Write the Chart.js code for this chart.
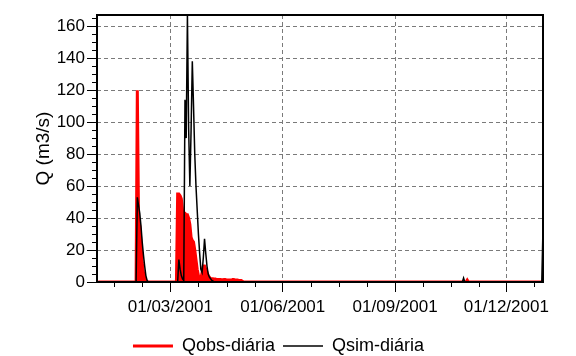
<!DOCTYPE html>
<html>
<head>
<meta charset="utf-8">
<script src="https://cdn.jsdelivr.net/npm/chart.js@4.4.0/dist/chart.umd.min.js"></script>
<style>
  body { margin: 0; background: #fff; }
</style>
</head>
<body>
<canvas id="grafica" width="576" height="356"></canvas>
<script>
'use strict'
//Vazões diárias de 2001 (índice 0 = 01/01/2001)

const nomesSeries = ['Qobs-diária', 'Qsim-diária'];

const qobs = [
    0,0,0,0,0,0,0,0,0,0, 0,0,0,0,0,0,0,0,0,0, 0,0,0,0,0,0,0,0,0,0, 0, //jan
    0,120,40,35,25,12,6,3,1,0, 0,0,0,0,0,0,0,0,0,0, 0,0,0,0,0,0,0,0, //fev
    0,0,0,0,0,0,55,55,54,52, 45,43,43,42,42,40,36,28,26,25, 20,14,8,4,2,2,6,10,10,8, 6, //mar
    4,3,2,2,2,1.8,1.8,1.5,1.5,1.5, 1.5,1.4,1.4,1.5,1.5,1.3,1.3,1.2,1.2,1.2, 1.5,1.5,1.3,1.2,1.2,1.0,1.0,1.0,0.5,0, //abr
    0,0,0,0,0,0,0,0,0,0, 0,0,0,0,0,0,0,0,0,0, 0,0,0,0,0,0,0,0,0,0, 0, //mai
    0,0,0,0,0,0,0,0,0,0, 0,0,0,0,0,0,0,0,0,0, 0,0,0,0,0,0,0,0,0,0, //jun
    0,0,0,0,0,0,0,0,0,0, 0,0,0,0,0,0,0,0,0,0, 0,0,0,0,0,0,0,0,0,0, 0, //jul
    0,0,0,0,0,0,0,0,0,0, 0,0,0,0,0,0,0,0,0,0, 0,0,0,0,0,0,0,0,0,0, 0, //ago
    0,0,0,0,0,0,0,0,0,0, 0,0,0,0,0,0,0,0,0,0, 0,0,0,0,0,0,0,0,0,0, //set
    0,0,0,0,0,0,0,0,0,0, 0,0,0,0,0,0,0,0,0,0, 0,0,0,0,0,0,0,0,0,1.2, 0, //out
    0,0,0,0,0,0,0,0,0,0, 0,0,0,0,0,0,0,0,0,0, 0,0,0,0,0,0,0,0,0,0, //nov
    0,0,0,0,0,0,0,0,0,0, 0,0,0,0,0,0,0,0,0,0, 0,0,0,0,0,0,0,0,0,0, 0 //dez
];

const qsim = [
    0,0,0,0,0,0,0,0,0,0, 0,0,0,0,0,0,0,0,0,0, 0,0,0,0,0,0,0,0,0,0, 0, //jan
    0,53,48,43,35,25,17,10,4,1, 0,0,0,0,0,0,0,0,0,0, 0,0,0,0,0,0,0,0, //fev
    0,0,0,0,0,0,0,14,8,4, 2,1,114,90,167,96,60,95,138,110, 80,60,45,30,18,8,6,15,27,18, 10, //mar
    5,3,2,1,0.5,0,0,0,0,0, 0,0,0,0,0,0,0,0,0,0, 0,0,0,0,0,0,0,0,0,0, //abr
    0,0,0,0,0,0,0,0,0,0, 0,0,0,0,0,0,0,0,0,0, 0,0,0,0,0,0,0,0,0,0, 0, //mai
    0,0,0,0,0,0,0,0,0,0, 0,0,0,0,0,0,0,0,0,0, 0,0,0,0,0,0,0,0,0,0, //jun
    0,0,0,0,0,0,0,0,0,0, 0,0,0,0,0,0,0,0,0,0, 0,0,0,0,0,0,0,0,0,0, 0, //jul
    0,0,0,0,0,0,0,0,0,0, 0,0,0,0,0,0,0,0,0,0, 0,0,0,0,0,0,0,0,0,0, 0, //ago
    0,0,0,0,0,0,0,0,0,0, 0,0,0,0,0,0,0,0,0,0, 0,0,0,0,0,0,0,0,0,0, //set
    0,0,0,0,0,0,0,0,0,0, 0,0,0,0,0,0,0,0,0,0, 0,0,0,0,0,0,2.5,0,0,0, 0, //out
    0,0,0,0,0,0,0,0,0,0, 0,0,0,0,0,0,0,0,0,0, 0,0,0,0,0,0,0,0,0,0, //nov
    0,0,0,0,0,0,0,0,0,0, 0,0,0,0,0,0,0,0,0,0, 0,0,0,0,0,0,0,0,0,0, 34 //dez
];

//Marcas do eixo x (dia do ano) e seus rótulos
const diasTicks = [59, 151, 243, 334];
const rotulosTicks = ['01/03/2001', '01/06/2001', '01/09/2001', '01/12/2001'];
//Marcas do eixo y
const valoresY = [0, 20, 40, 60, 80, 100, 120, 140, 160];

const fonte = 'Liberation Sans, Arial, Helvetica, sans-serif';

//Plugin: marcas menores e moldura da área do gráfico
const molduraTicks = {
    id: 'molduraTicks',
    afterDraw(chart) {
        const {ctx, chartArea: a, scales: {x, y}} = chart;
        ctx.save();
        ctx.strokeStyle = '#000';
        ctx.lineWidth = 1;
        ctx.beginPath();
        const menoresX = [];
        for (let i = 0; i < diasTicks.length - 1; i++) {
            const passo = (diasTicks[i + 1] - diasTicks[i]) / 4;
            for (let k = 1; k < 4; k++) menoresX.push(diasTicks[i] + k * passo);
        }
        let passo = (diasTicks[1] - diasTicks[0]) / 4;
        for (let v = diasTicks[0] - passo; v > x.min; v -= passo) menoresX.push(v);
        passo = (diasTicks[diasTicks.length - 1] - diasTicks[diasTicks.length - 2]) / 4;
        for (let v = diasTicks[diasTicks.length - 1] + passo; v < x.max; v += passo) menoresX.push(v);
        menoresX.forEach(v => {
            const px = Math.round(x.getPixelForValue(v)) + 0.5;
            ctx.moveTo(px, a.bottom);
            ctx.lineTo(px, a.bottom + 5);
        });
        for (let v = 5; v < y.max; v += 5) {
            if (v % 20 === 0) continue;
            const py = Math.round(y.getPixelForValue(v)) + 0.5;
            ctx.moveTo(a.left - 5, py);
            ctx.lineTo(a.left, py);
        }
        ctx.stroke();
        ctx.lineWidth = 2;
        ctx.strokeRect(a.left, a.top, a.right - a.left, a.bottom - a.top);
        ctx.restore();
    }
};

const ctx_grafica = document.getElementById('grafica').getContext('2d');

new Chart(ctx_grafica, {
    type: 'line',
    data: {
        datasets: [{
            label: nomesSeries[0],
            data: qobs.map((v, i) => ({x: i, y: v})),
            borderColor: '#ff0000',
            backgroundColor: '#ff0000',
            borderWidth: 3,
            fill: 'origin',
            pointRadius: 0,
            tension: 0,
            order: 1
        }, {
            label: nomesSeries[1],
            data: qsim.map((v, i) => ({x: i, y: v})),
            borderColor: '#000000',
            backgroundColor: '#000000',
            borderWidth: 1.5,
            fill: false,
            pointRadius: 0,
            tension: 0,
            order: 0
        }]
    },
    options: {
        responsive: false,
        animation: false,
        layout: {
            padding: {top: 15, right: 33, bottom: -9, left: 14}
        },
        plugins: {
            tooltip: {enabled: false},
            legend: {
                position: 'bottom',
                labels: {
                    usePointStyle: true,
                    pointStyle: 'line',
                    pointStyleWidth: 40,
                    padding: 8,
                    color: '#000',
                    font: {family: fonte, size: 18},
                    sort: (a, b) => a.datasetIndex - b.datasetIndex
                }
            }
        },
        scales: {
            x: {
                type: 'linear',
                min: -1,
                max: 364,
                afterBuildTicks: scale => {
                    scale.ticks = diasTicks.map(v => ({value: v}));
                },
                afterFit: scale => { scale.height = 47; },
                ticks: {
                    autoSkip: false,
                    maxRotation: 0,
                    padding: 5,
                    color: '#000',
                    font: {family: fonte, size: 17},
                    callback: value => rotulosTicks[diasTicks.indexOf(value)]
                },
                grid: {
                    color: '#7a7a7a',
                    lineWidth: 1,
                    tickLength: 10,
                    tickColor: '#000',
                    tickBorderDash: []
                },
                border: {display: false, dash: [4, 3]}
            },
            y: {
                min: 0,
                max: 167,
                afterBuildTicks: scale => {
                    scale.ticks = valoresY.map(v => ({value: v}));
                },
                afterFit: scale => { scale.width = 83; },
                ticks: {
                    padding: 2,
                    color: '#000',
                    font: {family: fonte, size: 17}
                },
                title: {
                    display: true,
                    text: 'Q (m3/s)',
                    color: '#000',
                    font: {family: fonte, size: 19},
                    padding: {top: 18, bottom: 0}
                },
                grid: {
                    color: '#7a7a7a',
                    lineWidth: 1,
                    tickLength: 10,
                    tickColor: '#000',
                    tickBorderDash: []
                },
                border: {display: false, dash: [4, 3]}
            }
        }
    },
    plugins: [molduraTicks]
});
</script>
</body>
</html>
